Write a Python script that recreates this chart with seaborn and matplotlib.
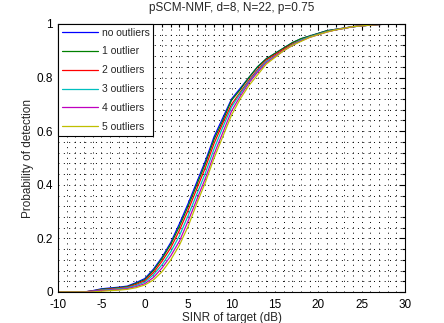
import numpy as np
import pandas as pd
import matplotlib
matplotlib.use('Agg')
import matplotlib.pyplot as plt
import seaborn as sns
from matplotlib.ticker import MultipleLocator

sinr = list(range(-10, 31))

no_outliers = [0, 0, 0, 0, 0.005, 0.012, 0.015, 0.018, 0.022, 0.035, 0.05, 0.085, 0.13, 0.185, 0.255, 0.33,
               0.41, 0.49, 0.58, 0.65, 0.72, 0.76, 0.80, 0.84, 0.87, 0.89, 0.91, 0.93, 0.945, 0.955,
               0.965, 0.975, 0.98, 0.985, 0.99, 0.993, 0.996, 0.998, 1.0, 1.0, 1.0]
one_outlier = [0, 0, 0, 0, 0.004, 0.01, 0.013, 0.016, 0.02, 0.032, 0.046, 0.08, 0.125, 0.178, 0.245, 0.32,
               0.40, 0.48, 0.57, 0.64, 0.715, 0.755, 0.80, 0.84, 0.87, 0.89, 0.91, 0.93, 0.945, 0.955,
               0.965, 0.975, 0.98, 0.985, 0.99, 0.993, 0.996, 0.998, 1.0, 1.0, 1.0]
two_outliers = [0, 0, 0, 0, 0.004, 0.008, 0.011, 0.014, 0.018, 0.028, 0.042, 0.072, 0.115, 0.165, 0.23, 0.305,
                0.385, 0.465, 0.555, 0.63, 0.70, 0.745, 0.79, 0.83, 0.865, 0.885, 0.905, 0.925, 0.94, 0.952,
                0.962, 0.972, 0.978, 0.984, 0.99, 0.993, 0.996, 0.998, 1.0, 1.0, 1.0]
three_outliers = [0, 0, 0, 0, 0.003, 0.007, 0.009, 0.012, 0.016, 0.024, 0.037, 0.064, 0.102, 0.15, 0.21, 0.285,
                  0.365, 0.445, 0.535, 0.615, 0.69, 0.74, 0.785, 0.825, 0.86, 0.88, 0.90, 0.922, 0.94, 0.952,
                  0.962, 0.972, 0.978, 0.984, 0.99, 0.993, 0.996, 0.998, 1.0, 1.0, 1.0]
four_outliers = [0, 0, 0, 0, 0.003, 0.005, 0.007, 0.009, 0.013, 0.02, 0.031, 0.054, 0.09, 0.135, 0.19, 0.265,
                 0.345, 0.425, 0.515, 0.595, 0.675, 0.73, 0.78, 0.82, 0.855, 0.878, 0.90, 0.92, 0.937, 0.95,
                 0.96, 0.97, 0.978, 0.984, 0.99, 0.993, 0.996, 0.998, 1.0, 1.0, 1.0]
five_outliers = [0, 0, 0, 0, 0, 0.003, 0.005, 0.007, 0.01, 0.016, 0.026, 0.045, 0.076, 0.12, 0.175, 0.245,
                 0.33, 0.41, 0.50, 0.58, 0.66, 0.72, 0.77, 0.81, 0.85, 0.875, 0.90, 0.92, 0.935, 0.95,
                 0.96, 0.97, 0.978, 0.984, 0.99, 0.993, 0.996, 0.998, 1.0, 1.0, 1.0]

labels = ['no outliers', '1 outlier', '2 outliers', '3 outliers', '4 outliers', '5 outliers']
series = [no_outliers, one_outlier, two_outliers, three_outliers, four_outliers, five_outliers]
colors = ['#0000ff', '#008000', '#ff0000', '#00bfbf', '#bf00bf', '#bfbf00']

df = pd.concat([pd.DataFrame({'SINR': sinr, 'Pd': s, 'case': lab}) for lab, s in zip(labels, series)])

sns.set_style('white')
plt.rcParams['font.family'] = ['Liberation Sans', 'DejaVu Sans']
plt.rcParams['font.size'] = 8

fig = plt.figure(figsize=(4.44, 3.23), dpi=100)
ax = fig.add_axes([58 / 444, 31 / 323, 347 / 444, 268 / 323])

sns.lineplot(data=df, x='SINR', y='Pd', hue='case', palette=colors, linewidth=0.9, ax=ax)

ax.set_xlim(-10, 30)
ax.set_ylim(0, 1)
ax.xaxis.set_minor_locator(MultipleLocator(1))
ax.yaxis.set_minor_locator(MultipleLocator(0.04))
ax.set_yticks([0, 0.2, 0.4, 0.6, 0.8, 1.0])
ax.set_yticklabels(['0', '0.2', '0.4', '0.6', '0.8', '1'])
ax.set_xticks(range(-10, 31, 5))
ax.set_xticklabels([str(v) for v in range(-10, 31, 5)])

ax.grid(which='both', color='black', linestyle=(0, (1, 4.5)), linewidth=0.7)
ax.set_axisbelow(True)
ax.tick_params(which='both', direction='in', top=True, right=True, colors='black', labelsize=8.5)
ax.tick_params(axis='x', which='major', pad=5)
ax.tick_params(which='major', length=4, width=0.8)
ax.tick_params(which='minor', length=2.5, width=0.8)
for sp in ax.spines.values():
    sp.set_color('black')
    sp.set_linewidth(0.8)

ax.set_title('pSCM-NMF, d=8, N=22, p=0.75', fontsize=8.5, pad=9)
ax.set_xlabel('SINR of target (dB)', fontsize=8.5, labelpad=1)
ax.set_ylabel('Probability of detection', fontsize=8.5, labelpad=2)

leg = ax.legend(loc='upper left', borderaxespad=0, fancybox=False, framealpha=1, edgecolor='black',
                handlelength=3.45, labelspacing=0.85, fontsize=7.5, borderpad=0.35, handletextpad=0.4)
leg.get_frame().set_linewidth(0.8)

fig.savefig('out.png', dpi=100)
